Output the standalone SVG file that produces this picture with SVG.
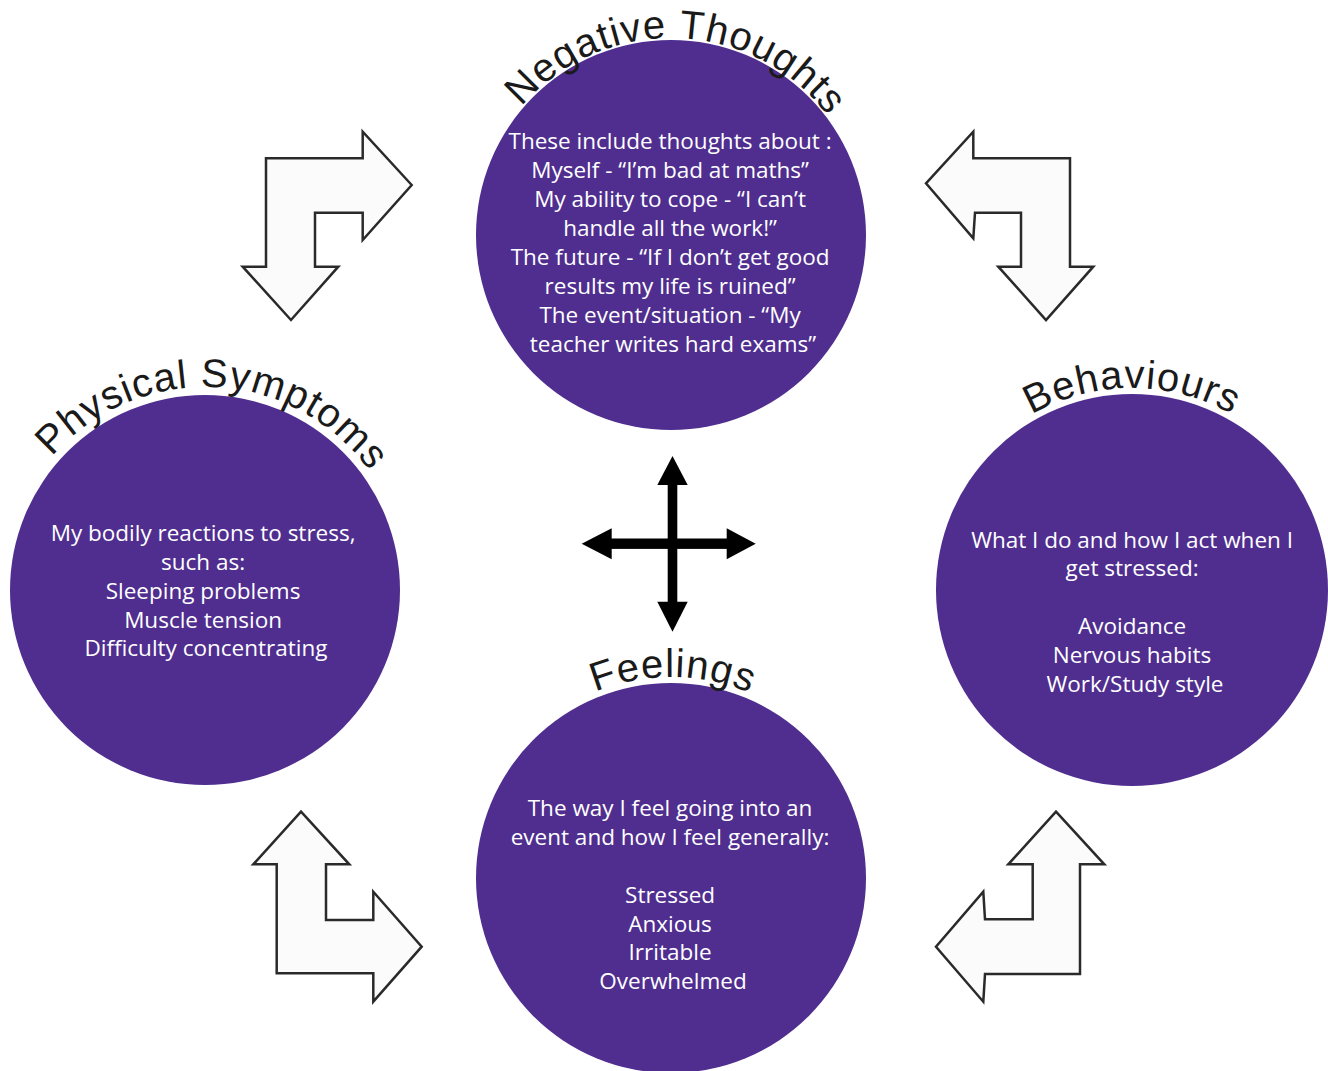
<svg xmlns="http://www.w3.org/2000/svg" width="1328" height="1071" viewBox="0 0 1328 1071">
<style>
.circ{fill:#4f2e8f}
.body{font-family:"Open Sans","Liberation Sans",sans-serif;font-size:22.5px;fill:#ffffff;text-anchor:middle}
.title{font-family:"Liberation Sans","DejaVu Sans",sans-serif;font-size:40px;fill:#1a1a1a;letter-spacing:1px}
.hollow{fill:#fbfbfb;stroke:#2a2a2a;stroke-width:2.5;stroke-linejoin:miter}
.cross{fill:#000}
</style>
<defs>
<path id="arcNT" d="M 474,235 A 197,197 0 0 1 868,235"/>
<path id="arcPS" d="M 2,590 A 203,203 0 0 1 408,590"/>
<path id="arcBE" d="M 930,590 A 202,202 0 0 1 1334,590"/>
<path id="arcFE" d="M 470,878 A 201,201 0 0 1 872,878"/>
</defs>
<rect width="1328" height="1071" fill="#ffffff"/>
<g id="connectors">
<polygon class="hollow" points="411.7,185 362.7,131.7 362.7,158.3 266,158.3 266,266.7 242.7,266.7 291,320 338.3,266.7 315,266.7 315,212.7 362.7,212.7 362.7,240"/>
<polygon class="hollow" points="926,183.3 973.3,131.7 973.3,158.3 1070,158.3 1070,266.7 1093.3,266.7 1046,320 998.3,266.7 1021,266.7 1021,212.7 975,212.7 973.3,238.3"/>
<polygon class="hollow" points="301,811.7 349.3,864.3 326,864.3 326,920 373.3,920 373.3,891.7 421.7,946.7 373.3,1001.7 373.3,973.3 276.7,973.3 276.7,864.3 253.3,864.3"/>
<polygon class="hollow" points="1056,811.7 1104.3,864.3 1080,864.3 1080,974 985,974 983.3,1001.7 936,946.7 983.3,891.7 985,919.3 1032.7,919.3 1032.7,864.3 1008.3,864.3"/>
<g class="cross">
<rect x="667.7" y="480" width="9.6" height="126"/>
<rect x="606" y="538.5" width="126" height="10.4"/>
<polygon points="672.5,456 657.3,485 687.7,485"/>
<polygon points="672.5,631.7 657.3,601.7 687.7,601.7"/>
<polygon points="581.7,543.7 611.7,528.3 611.7,559.3"/>
<polygon points="755.7,543.7 726.7,528.3 726.7,559.3"/>
</g>
</g>
<g id="negative-thoughts">
<circle class="circ" cx="671" cy="235" r="195"/>
<text class="title"><textPath href="#arcNT" startOffset="51%" text-anchor="middle">Negative Thoughts</textPath></text>
<text class="body">
<tspan x="673" y="149">These include thoughts about :</tspan>
<tspan x="673" y="178">Myself - “I’m bad at maths”</tspan>
<tspan x="673" y="207">My ability to cope - “I can’t</tspan>
<tspan x="673" y="236">handle all the work!”</tspan>
<tspan x="673" y="265">The future - “If I don’t get good</tspan>
<tspan x="673" y="294">results my life is ruined”</tspan>
<tspan x="673" y="323">The event/situation - “My</tspan>
<tspan x="673" y="352">teacher writes hard exams”</tspan>
</text>
</g>
<g id="physical-symptoms">
<circle class="circ" cx="205" cy="590" r="195"/>
<text class="title"><textPath href="#arcPS" startOffset="51.5%" text-anchor="middle">Physical Symptoms</textPath></text>
<text class="body">
<tspan x="206" y="541">My bodily reactions to stress,</tspan>
<tspan x="206" y="570">such as:</tspan>
<tspan x="206" y="599">Sleeping problems</tspan>
<tspan x="206" y="628">Muscle tension</tspan>
<tspan x="206" y="656">Difficulty concentrating</tspan>
</text>
</g>
<g id="behaviours">
<circle class="circ" cx="1132" cy="590" r="196"/>
<text class="title"><textPath href="#arcBE" startOffset="50%" text-anchor="middle">Behaviours</textPath></text>
<text class="body">
<tspan x="1135" y="548">What I do and how I act when I</tspan>
<tspan x="1135" y="576">get stressed:</tspan>
<tspan x="1135" y="634">Avoidance</tspan>
<tspan x="1135" y="663">Nervous habits</tspan>
<tspan x="1135" y="692">Work/Study style</tspan>
</text>
</g>
<g id="feelings">
<circle class="circ" cx="671" cy="878" r="195"/>
<text class="title"><textPath href="#arcFE" startOffset="50.3%" text-anchor="middle">Feelings</textPath></text>
<text class="body">
<tspan x="673" y="816">The way I feel going into an</tspan>
<tspan x="673" y="845">event and how I feel generally:</tspan>
<tspan x="673" y="903">Stressed</tspan>
<tspan x="673" y="932">Anxious</tspan>
<tspan x="673" y="960">Irritable</tspan>
<tspan x="673" y="989">Overwhelmed</tspan>
</text>
</g>
</svg>
